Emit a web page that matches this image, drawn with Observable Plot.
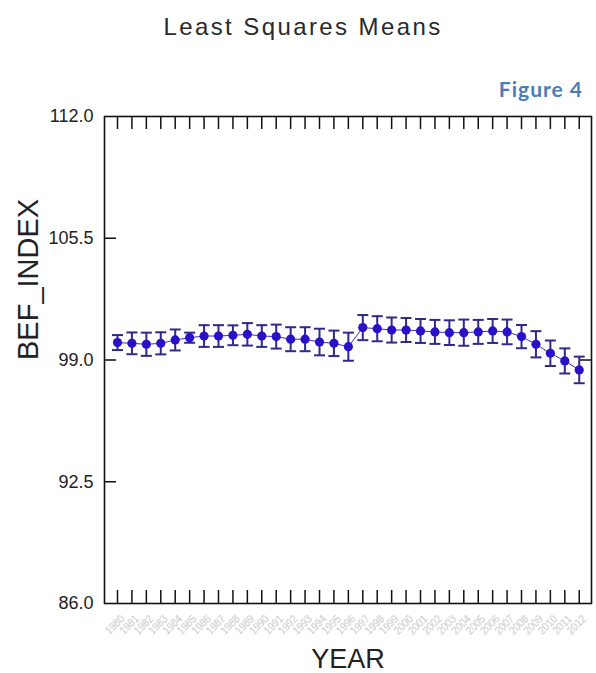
<!DOCTYPE html>
<html>
<head>
<meta charset="utf-8">
<script src="https://cdn.jsdelivr.net/npm/d3@7"></script>
<script src="https://cdn.jsdelivr.net/npm/@observablehq/plot@0.6"></script>
<style>
  body { margin: 0; background: #fff; }
  #wrap { position: relative; width: 596px; height: 673px; overflow: hidden; }
  #title { position: absolute; left: 5px; width: 596px; top: 15px; line-height: 24px; text-align: center;
           font-family: "Liberation Sans", Arial, sans-serif; font-size: 24px; letter-spacing: 2.4px; color: #2a2a2a; }
  #fig { position: absolute; right: 13px; top: 78px; line-height: 21px; font-family: Lato, "Open Sans", sans-serif;
         font-weight: bold; font-size: 21px; letter-spacing: 1px; color: #4a7ebb; }
  #chart { position: absolute; left: 0; top: 0; }
</style>
</head>
<body>
<div id="wrap">
  <div id="chart"></div>
  <div id="title"></div>
  <div id="fig"></div>
</div>
<script>
const titleText = "Least Squares Means";
const figureText = "Figure 4";
const xLabel = "YEAR";
const yLabel = "BEF_INDEX";

const years = [1980, 1981, 1982, 1983, 1984, 1985, 1986, 1987, 1988, 1989, 1990,
               1991, 1992, 1993, 1994, 1995, 1996, 1997, 1998, 1999, 2000, 2001,
               2002, 2003, 2004, 2005, 2006, 2007, 2008, 2009, 2010, 2011, 2012];
const means = [99.93, 99.89, 99.84, 99.89, 100.07, 100.19, 100.28, 100.28, 100.32, 100.37, 100.28,
               100.25, 100.11, 100.11, 99.96, 99.89, 99.71, 100.73, 100.67, 100.60, 100.60, 100.55,
               100.50, 100.46, 100.46, 100.50, 100.55, 100.50, 100.25, 99.84, 99.36, 98.95, 98.47];
const errs  = [0.40, 0.58, 0.62, 0.59, 0.56, 0.27, 0.58, 0.58, 0.53, 0.60, 0.58,
               0.64, 0.64, 0.64, 0.71, 0.68, 0.75, 0.67, 0.67, 0.67, 0.64, 0.64,
               0.64, 0.66, 0.70, 0.64, 0.64, 0.66, 0.62, 0.70, 0.68, 0.67, 0.71];
const yTicks = [86, 92.5, 99, 105.5, 112];
const yInnerTicks = [92.5, 99, 105.5];
const yRightTicks = [99];

const data = years.map((y, i) => ({year: y, mean: means[i], lo: means[i] - errs[i], hi: means[i] + errs[i]}));

document.getElementById("title").textContent = titleText;
document.getElementById("fig").textContent = figureText;

const capSymbol = {
  draw(ctx, size) {
    const r = Math.sqrt(size / Math.PI);
    ctx.moveTo(-r, 0);
    ctx.lineTo(r, 0);
  }
};

const frameW = 596 - 104 - 5;
const frameH = 673 - 116 - 70;
const tickLen = 13;

const chart = Plot.plot({
  width: 596,
  height: 673,
  marginTop: 116,
  marginBottom: 70,
  marginLeft: 104,
  marginRight: 5,
  style: {fontFamily: "'Liberation Sans', Arial, sans-serif", background: "transparent", color: "#222"},
  x: {domain: [1979.1, 2012.85], axis: null},
  y: {domain: [86, 112]},
  marks: [
    Plot.axisY(yTicks, {tickSize: 0, tickPadding: 11, fontSize: 18, tickFormat: d => d.toFixed(1), label: null}),
    Plot.ruleX(years, {x: d => d, insetTop: frameH - tickLen, stroke: "#111", strokeWidth: 1.5}),
    Plot.ruleX(years, {x: d => d, insetBottom: frameH - tickLen, stroke: "#111", strokeWidth: 1.5}),
    Plot.ruleY(yInnerTicks, {y: d => d, insetRight: frameW - 12, stroke: "#111", strokeWidth: 1.5}),
    Plot.ruleY(yRightTicks, {y: d => d, insetLeft: frameW - 12, stroke: "#111", strokeWidth: 1.5}),
    Plot.frame({stroke: "#111", strokeWidth: 1.6}),
    Plot.text(years, {x: d => d, frameAnchor: "bottom", dy: 24, rotate: -45, fontSize: 10, fill: "#c4c4c4", text: d => String(d)}),
    Plot.text([xLabel], {frameAnchor: "bottom", dy: 64, lineAnchor: "bottom", fontSize: 27, fill: "#222"}),
    Plot.text([yLabel], {frameAnchor: "left", dx: -76, rotate: -90, fontSize: 29, fill: "#222"}),
    Plot.line(data, {x: "year", y: "mean", stroke: "#3a30d0", strokeWidth: 1}),
    Plot.ruleX(data, {x: "year", y1: "lo", y2: "hi", stroke: "#2e2a8a", strokeWidth: 2}),
    Plot.dot(data, {x: "year", y: "lo", symbol: capSymbol, r: 5.5, stroke: "#2e2a8a", strokeWidth: 2, fill: "none"}),
    Plot.dot(data, {x: "year", y: "hi", symbol: capSymbol, r: 5.5, stroke: "#2e2a8a", strokeWidth: 2, fill: "none"}),
    Plot.dot(data, {x: "year", y: "mean", r: 4.6, fill: "#2a10c8", stroke: "none"})
  ]
});

d3.select(chart).selectAll("text")
  .filter(function() { return /^\d{4}$/.test(this.textContent); })
  .style("filter", "blur(0.7px)");

document.getElementById("chart").appendChild(chart);
</script>
</body>
</html>
